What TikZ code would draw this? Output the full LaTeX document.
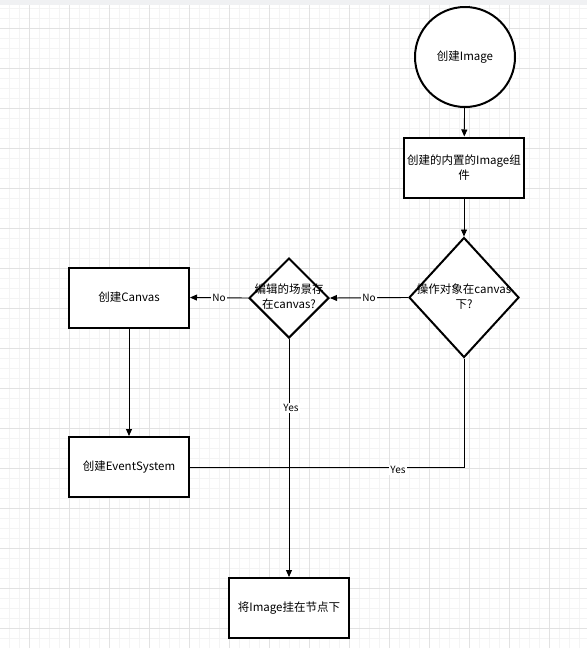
\documentclass[tikz,border=0pt]{standalone}
\usepackage{fontspec}
\setmainfont{Noto Sans CJK SC}
\usetikzlibrary{arrows.meta,shapes.geometric}
\definecolor{gridminor}{HTML}{F4F4F4}
\definecolor{gridmajor}{HTML}{E2E2E2}
\definecolor{topbar}{HTML}{F0F1F3}
\begin{document}
\begin{tikzpicture}[x=1pt,y=-1pt,
  every node/.style={font=\fontsize{11.5}{15}\selectfont},
  box/.style={draw=black,line width=2pt,minimum width=120pt,minimum height=60pt,inner sep=0pt,fill=white},
  dia/.style={draw=black,line width=2pt,diamond,inner sep=0pt,fill=white},
  circ/.style={draw=black,line width=2pt,circle,minimum size=100pt,inner sep=0pt,fill=white},
  conn/.style={line width=0.9pt,-{Triangle[length=7pt,width=6pt]}},
  plain/.style={line width=0.9pt},
  lbl/.style={fill=white,inner sep=1pt,font=\fontsize{10}{12}\selectfont}
]
\useasboundingbox (0,0) rectangle (587,648);
\fill[white] (0,0) rectangle (587,648);
% grid
\foreach \x in {9,19,...,587} \draw[gridminor,line width=0.8pt] (\x,5) -- (\x,648);
\foreach \y in {8,18,...,648} \draw[gridminor,line width=0.8pt] (0,\y) -- (587,\y);
\foreach \x in {29,69,...,587} \draw[gridmajor,line width=0.8pt] (\x,5) -- (\x,648);
\foreach \y in {28,68,...,648} \draw[gridmajor,line width=0.8pt] (0,\y) -- (587,\y);
\fill[topbar] (0,0) rectangle (587,5);

% nodes
\node[circ] (start) at (465,57) {创建Image};
\node[box,align=center] (inner) at (464,167.5) {创建的内置的Image组\\件};
\node[dia,minimum width=110pt,minimum height=120pt] (d1) at (464,297.5) {};
\node[align=center,inner sep=0pt] (d1t) at (464,297) {操作对象在canvas\\下?};
\node[dia,minimum width=80pt,minimum height=80pt] (d2) at (289,298) {};
\node[align=center,inner sep=0pt] (d2t) at (289,297) {编辑的场景存\\在canvas?};
\node[box] (canvas) at (129,297.5) {创建Canvas};
\node[box] (es) at (129,467) {创建EventSystem};
\node[box] (mount) at (289,608) {将Image挂在节点下};

% connectors
\draw[conn] (start) -- (inner);
\draw[conn] (inner) -- (d1);
\draw[conn] (d1.west) -- node[lbl] (no1) {No} (d2.east);
\draw[conn] (d2.west) -- node[lbl] (no2) {No} (canvas.east);
\draw[conn] (canvas) -- (es);
\draw[conn] (d2.south) -- (mount.north);
\node[lbl] (yes1) at (291,408) {Yes};
\draw[plain] (d1.south) |- (es.east);
\node[lbl] (yes2) at (398,470) {Yes};
\end{tikzpicture}
\end{document}
